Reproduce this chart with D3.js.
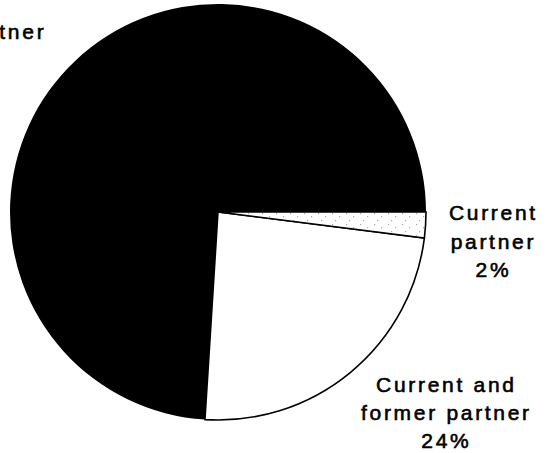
<!DOCTYPE html>
<html>
<head>
<meta charset="utf-8">
<script src="https://cdn.jsdelivr.net/npm/d3@7/dist/d3.min.js"></script>
<style>
  html, body { margin: 0; padding: 0; background: #fff; }
  svg { display: block; }
  text { font-family: "Liberation Sans", Arial, sans-serif; font-size: 21px; letter-spacing: 2.7px; fill: #000; stroke: #000; stroke-width: 0.6px; }
</style>
</head>
<body>
<svg id="chart" width="552" height="453"></svg>
<script>
// Who the abuser was: share of cases by relationship to the victim
const categories = ["Current partner", "Current and former partner", "Former partner"];
const values = [2, 24, 74];
const labelLines = [
  ["Current", "partner", "2%"],
  ["Current and", "former partner", "24%"],
  ["Former partner", "74%"]
];

const width = 552, height = 453;
const cx = 218, cy = 212, radius = 208;

const svg = d3.select("#chart");

// sparse light stipple used for the small slice
const defs = svg.append("defs");
const pat = defs.append("pattern")
  .attr("id", "stipple")
  .attr("patternUnits", "userSpaceOnUse")
  .attr("width", 14).attr("height", 11);
pat.append("rect").attr("width", 14).attr("height", 11).attr("fill", "#fff");
[[2, 1], [9, 4], [5, 8]].forEach(([x, y]) => {
  pat.append("rect").attr("x", x).attr("y", y).attr("width", 1.2).attr("height", 1.2).attr("fill", "#aaa");
});

const fills = d3.scaleOrdinal()
  .domain(categories)
  .range(["url(#stipple)", "#fff", "#000"]);

// start at 3 o'clock and run clockwise
const pie = d3.pie()
  .value(d => d.value)
  .sort(null)
  .startAngle(Math.PI / 2)
  .endAngle(Math.PI / 2 + 2 * Math.PI);

const data = categories.map((c, i) => ({ name: c, value: values[i], lines: labelLines[i] }));
const arcs = pie(data);
const arc = d3.arc().innerRadius(0).outerRadius(radius);

const g = svg.append("g").attr("transform", `translate(${cx},${cy})`);

// dark slice first, outlined light slices on top
g.selectAll("path.slice")
  .data(arcs.slice().reverse())
  .join("path")
  .attr("class", "slice")
  .attr("d", arc)
  .attr("fill", d => fills(d.data.name))
  .attr("stroke", "#000")
  .attr("stroke-width", d => d.data.name === "Former partner" ? 0 : 1.6)
  .attr("stroke-linejoin", "miter");

// label anchors: centre x and first baseline
const labelPos = {
  "Current partner": { x: 492, y: 220, dy: 28.5 },
  "Current and former partner": { x: 445, y: 392, dy: 28 },
  "Former partner": { x: -44, y: 39, dy: 28 }
};

data.forEach(d => {
  const p = labelPos[d.name];
  const t = svg.append("text")
    .attr("text-anchor", "middle")
    .attr("x", p.x)
    .attr("y", p.y);
  d.lines.forEach((line, i) => {
    t.append("tspan")
      .attr("x", p.x + 1.4)
      .attr("y", p.y + i * p.dy)
      .text(line);
  });
});
</script>
</body>
</html>
